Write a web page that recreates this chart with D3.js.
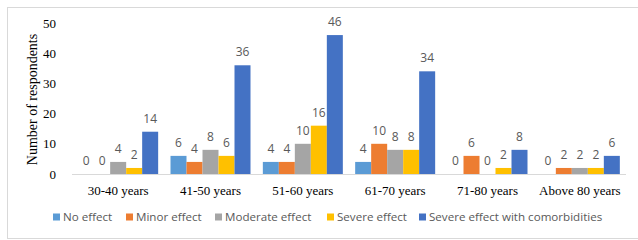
<!DOCTYPE html>
<html>
<head>
<meta charset="utf-8">
<script src="https://cdn.jsdelivr.net/npm/d3@7"></script>
<style>
  body { margin: 0; background: #fff; }
  .tick-label { font-family: "Liberation Serif", "Times New Roman", serif; font-size: 13px; fill: #000; }
  .axis-title { font-family: "Liberation Serif", "Times New Roman", serif; font-size: 14px; fill: #000; }
  .val { font-family: "Open Sans", sans-serif; font-size: 12px; fill: #595959; }
  .legend-text { font-family: "Open Sans", sans-serif; font-size: 11.6px; fill: #595959; }
</style>
</head>
<body>
<div id="chart"></div>
<script>
// data
const categories = ["30-40 years", "41-50 years", "51-60 years", "61-70 years", "71-80 years", "Above 80 years"]
const series_names = ["No effect", "Minor effect", "Moderate effect", "Severe effect", "Severe effect with comorbidities"]
const no_effect = [0, 6, 4, 4, 0, 0]
const minor_effect = [0, 4, 4, 10, 6, 2]
const moderate_effect = [4, 8, 10, 8, 0, 2]
const severe_effect = [2, 6, 16, 8, 2, 2]
const severe_comorbid = [14, 36, 46, 34, 8, 6]
const y_ticks = [0, 10, 20, 30, 40, 50]
const colours = ["#5B9BD5", "#ED7D31", "#A5A5A5", "#FFC000", "#4472C4"]

function generate_bars(width, height){
    const all_series = [no_effect, minor_effect, moderate_effect, severe_effect, severe_comorbid]

    const svg = d3.create("svg")
        .attr("width", width)
        .attr("height", height)

    // outer frame (no right edge visible in the original, so it runs off the page)
    svg.append("rect")
        .attr("x", 7.5).attr("y", 7.5)
        .attr("width", width + 10).attr("height", 231)
        .attr("fill", "none")
        .attr("stroke", "#D9D9D9")

    const left = 72, right = 626, top = 23, bottom = 174

    const y = d3.scaleLinear().domain([0, 50]).range([bottom, top])
    const x0 = d3.scaleBand()
        .domain(categories)
        .range([left, right])
        .paddingInner(0.1336)
        .paddingOuter(0.0668)
    const x1 = d3.scaleBand()
        .domain(series_names)
        .range([0, x0.bandwidth()])
    const color = d3.scaleOrdinal().domain(series_names).range(colours)

    // y tick labels, no axis line
    svg.append("g").selectAll("text")
        .data(y_ticks)
        .enter()
        .append("text")
        .attr("class", "tick-label")
        .attr("x", 56)
        .attr("y", d => y(d))
        .attr("dy", "0.35em")
        .attr("text-anchor", "end")
        .text(d => d)

    svg.append("text")
        .attr("class", "axis-title")
        .attr("transform", `translate(37,${(top + bottom) / 2 + 1}) rotate(-90)`)
        .attr("text-anchor", "middle")
        .text("Number of respondents")

    // one group per age band
    const groups = svg.append("g").selectAll("g")
        .data(categories)
        .enter()
        .append("g")
        .attr("transform", d => `translate(${x0(d)},0)`)

    const cells = groups.selectAll("g")
        .data((c, i) => series_names.map((s, j) => ({ s: s, v: all_series[j][i] })))
        .enter()

    cells.append("rect")
        .attr("x", d => x1(d.s))
        .attr("y", d => y(d.v))
        .attr("width", x1.bandwidth())
        .attr("height", d => bottom - y(d.v))
        .attr("fill", d => color(d.s))

    cells.append("text")
        .attr("class", "val")
        .attr("x", d => x1(d.s) + x1.bandwidth() / 2)
        .attr("y", d => y(d.v) - 9)
        .attr("text-anchor", "middle")
        .text(d => d.v)

    // baseline
    svg.append("line")
        .attr("x1", left).attr("x2", right)
        .attr("y1", bottom + 0.5).attr("y2", bottom + 0.5)
        .attr("stroke", "#D9D9D9")

    // category labels
    svg.append("g").selectAll("text")
        .data(categories)
        .enter()
        .append("text")
        .attr("class", "tick-label")
        .attr("x", d => x0(d) + x0.bandwidth() / 2)
        .attr("y", 195)
        .attr("text-anchor", "middle")
        .text(d => d)

    // legend
    const legend_x = [53, 126, 215, 327, 419]
    const legend = svg.append("g").selectAll("g")
        .data(series_names)
        .enter()
        .append("g")
        .attr("transform", (d, i) => `translate(${legend_x[i]},217)`)
    legend.append("rect")
        .attr("x", 0).attr("y", -3.5)
        .attr("width", 7).attr("height", 7)
        .attr("fill", d => color(d))
    legend.append("text")
        .attr("class", "legend-text")
        .attr("x", 10)
        .attr("dy", "0.35em")
        .text(d => d)

    return svg.node()
}

document.getElementById("chart").appendChild(generate_bars(638, 240))
</script>
</body>
</html>
